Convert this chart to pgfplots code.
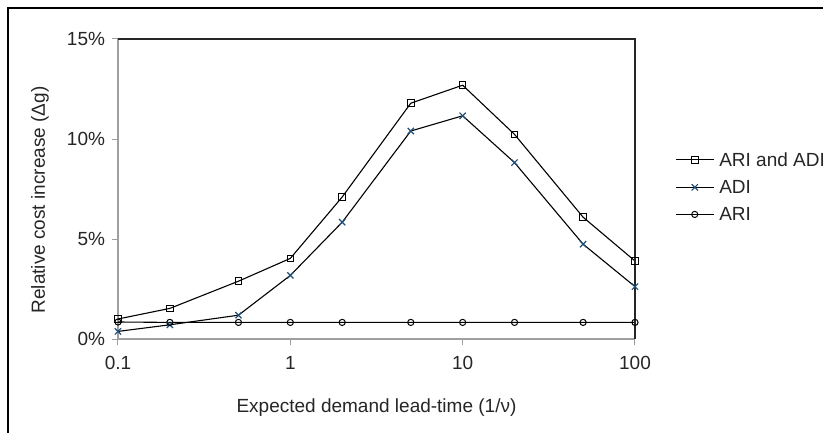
\documentclass[border=0pt]{standalone}
\usepackage{fontspec}
\setmainfont{Liberation Sans}
\usepackage{pgfplots}
\pgfplotsset{compat=1.18}
\definecolor{adiblue}{HTML}{1F4E79}
\begin{document}
\begin{tikzpicture}[x=1pt,y=1pt]
\useasboundingbox (0,0) rectangle (823,432);
\fill[white] (0,0) rectangle (823,432);
\draw[black, line width=1.3pt] (8,-5) -- (8,424) -- (830,424);
\begin{axis}[
  at={(118pt,93pt)}, anchor=south west, scale only axis,
  width=517pt, height=300pt,
  xmode=log, xmin=0.1, xmax=100, ymin=0, ymax=15,
  xtick={0.1,1,10,100}, xticklabels={0.1,1,10,100},
  ytick={0,5,10,15}, yticklabels={0\%,5\%,10\%,15\%},
  xminorticks=false, yminorticks=false,
  axis x line*=bottom, axis y line*=left,
  axis line style={-, color=gray!75, line width=1.2pt},
  tick style={color=gray!75, line width=1pt},
  tick align=outside, major tick length=6pt,
  ticklabel style={font=\fontsize{19}{22}\selectfont, text=black!85},
  xticklabel style={yshift=-8pt},
  yticklabel style={xshift=-3.5pt},
  label style={font=\fontsize{19}{22}\selectfont, text=black!85},
  xlabel={Expected demand lead-time (1/ν)},
  ylabel={Relative cost increase (Δg)},
  xlabel style={at={(axis description cs:0.5,-0.23)}, anchor=center},
  ylabel style={at={(axis description cs:-0.1509,0.0733)}, anchor=west},
  clip=false,
  legend style={draw=none, fill=none, at={(axis description cs:1.0774,0.623)},
    anchor=north west, inner sep=0pt, row sep=12.5pt, column sep=5pt,
    nodes={inner sep=0pt, font=\fontsize{19}{22}\selectfont, text=black!85}},
  legend cell align=left,
  legend image code/.code={\draw[mark repeat=2,mark phase=2,#1] plot coordinates {(0pt,0pt) (19pt,0pt) (38pt,0pt)};},
]
\addplot[black, line width=1.1pt, mark=square, mark size=3.3pt,
  mark options={fill=white, line width=1pt, solid}] coordinates {
  (0.1,1.00) (0.2,1.53) (0.5,2.89) (1,4.03) (2,7.10) (5,11.79) (10,12.69) (20,10.23) (50,6.09) (100,3.90)};
\addlegendentry{ARI and ADI}
\addplot[black, line width=1.1pt, mark=x, mark size=4.4pt,
  mark options={color=adiblue, line width=1.2pt}] coordinates {
  (0.1,0.38) (0.2,0.71) (0.5,1.19) (1,3.18) (2,5.84) (5,10.40) (10,11.16) (20,8.82) (50,4.74) (100,2.62)};
\addlegendentry{ADI}
\addplot[black, line width=1.1pt, mark=o, mark size=3.1pt,
  mark options={fill=white, line width=1pt}] coordinates {
  (0.1,0.85) (0.2,0.83) (0.5,0.83) (1,0.83) (2,0.83) (5,0.83) (10,0.83) (20,0.83) (50,0.83) (100,0.83)};
\addlegendentry{ARI}
\draw[black!85, line width=1.2pt] (rel axis cs:0,1) -- (rel axis cs:1,1) -- (rel axis cs:1,0);
\end{axis}
\end{tikzpicture}
\end{document}
